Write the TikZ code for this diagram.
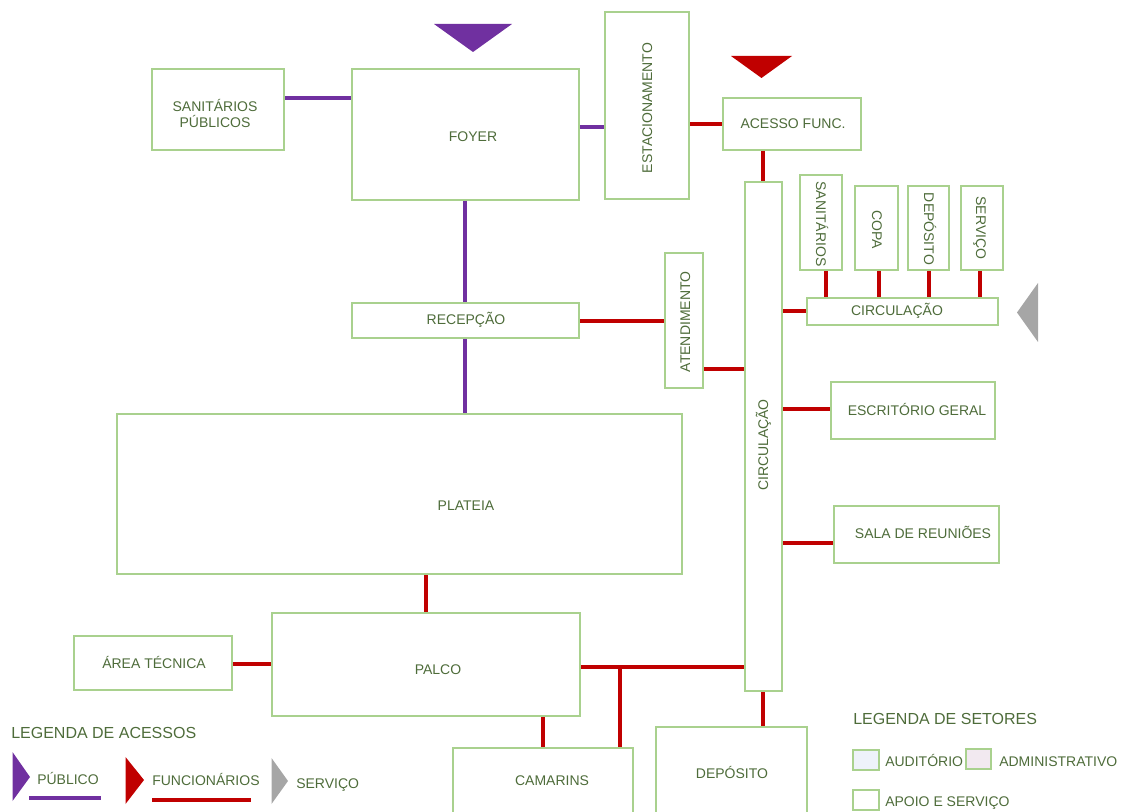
\documentclass[tikz,border=0pt]{standalone}
\usepackage{fontspec}
\setmainfont{Liberation Sans}
\usetikzlibrary{fit}
\definecolor{txtgreen}{RGB}{78,108,58}
\definecolor{boxgreen}{RGB}{169,209,142}
\definecolor{pubpurple}{RGB}{112,48,160}
\definecolor{funcred}{RGB}{192,0,0}
\definecolor{servgray}{RGB}{166,166,166}
\definecolor{audfill}{RGB}{238,242,250}
\definecolor{admfill}{RGB}{242,233,240}
\tikzset{
  room/.style={draw=boxgreen, line width=1.5pt, inner sep=0pt, fill=white},
  lbl/.style={text=txtgreen, font=\fontsize{10.5}{12}\selectfont, inner sep=0pt,
              text height=7.5pt, text depth=0pt, align=center},
  vlbl/.style={lbl, rotate=90},
  dlbl/.style={lbl, rotate=-90},
  ttl/.style={text=txtgreen, font=\fontsize{12}{14}\selectfont, inner sep=0pt,
              text height=8.6pt, text depth=0pt, anchor=west},
  pub/.style={draw=pubpurple, line width=2.3pt},
  func/.style={draw=funcred, line width=2.3pt},
}
\begin{document}
\begin{tikzpicture}[x=0.75pt, y=-0.75pt]
\useasboundingbox (0,0) rectangle (1121,812);
\clip (0,0) rectangle (1121,812);

% ---- rooms ----
\node[room, fit={(152,69)(284,150)}] (sanpub) {};
\node[room, fit={(352,69)(579,200)}] (foyer) {};
\node[room, fit={(605,12)(689,199)}] (estac) {};
\node[room, fit={(723,98)(861,150)}] (acesso) {};
\node[room, fit={(745,182)(782,691)}] (circv) {};
\node[room, fit={(800,175)(842,270)}] (sanit) {};
\node[room, fit={(855,186)(898,270)}] (copa) {};
\node[room, fit={(908,186)(949,270)}] (depa) {};
\node[room, fit={(961,186)(1003,270)}] (serv) {};
\node[room, fit={(807,298)(998,325)}] (circh) {};
\node[room, fit={(665,253)(703,388)}] (atend) {};
\node[room, fit={(352,303)(579,338)}] (recep) {};
\node[room, fit={(117,414)(682,574)}] (plateia) {};
\node[room, fit={(831,382)(995,439)}] (escrit) {};
\node[room, fit={(834,506)(999,563)}] (sala) {};
\node[room, fit={(74,636)(232,690)}] (areatec) {};
\node[room, fit={(272,613)(580,716)}] (palco) {};
\node[room, fit={(453,748)(633,820)}] (camar) {};
\node[room, fit={(656,727)(807,820)}] (depb) {};

% ---- room labels ----
\node[lbl, font=\fontsize{10.5}{12.4}\selectfont] (sanpub-t) at (215,123) {SANITÁRIOS\\PÚBLICOS};
\node[lbl] (foyer-t) at (473,137) {FOYER};
\node[vlbl] (estac-t) at (647,108) {ESTACIONAMENTO};
\node[lbl] (acesso-t) at (793,124) {ACESSO FUNC.};
\node[vlbl] (circv-t) at (763,445) {CIRCULAÇÃO};
\node[dlbl] (sanit-t) at (821,224) {SANITÁRIOS};
\node[dlbl] (copa-t) at (877,230) {COPA};
\node[dlbl] (depa-t) at (929,229) {DEPÓSITO};
\node[dlbl] (serv-t) at (981,228) {SERVIÇO};
\node[lbl] (circh-t) at (897,311) {CIRCULAÇÃO};
\node[vlbl] (atend-t) at (685,322) {ATENDIMENTO};
\node[lbl] (recep-t) at (466,320) {RECEPÇÃO};
\node[lbl] (plateia-t) at (466,506) {PLATEIA};
\node[lbl] (escrit-t) at (917,411) {ESCRITÓRIO GERAL};
\node[lbl] (sala-t) at (923,534) {SALA DE REUNIÕES};
\node[lbl] (areatec-t) at (154,663) {ÁREA TÉCNICA};
\node[lbl] (palco-t) at (438,669) {PALCO};
\node[lbl] (camar-t) at (552,780) {CAMARINS};
\node[lbl] (depb-t) at (732,773) {DEPÓSITO};

% ---- public access ----
\draw[pub] (sanpub.east |- 0,98) -- (foyer.west |- 0,98);
\draw[pub] (foyer.east |- 0,127) -- (estac.west |- 0,127);
\draw[pub] (foyer.south -| 465,0) -- (recep.north -| 465,0);
\draw[pub] (recep.south -| 465,0) -- (plateia.north -| 465,0);

% ---- staff access ----
\draw[func] (estac.east |- 0,124) -- (acesso.west |- 0,124);
\draw[func] (acesso.south -| 763,0) -- (circv.north -| 763,0);
\draw[func] (recep.east |- 0,321) -- (atend.west |- 0,321);
\draw[func] (atend.east |- 0,369) -- (circv.west |- 0,369);
\draw[func] (circv.east |- 0,311) -- (circh.west |- 0,311);
\draw[func] (sanit.south -| 826,0) -- (circh.north -| 826,0);
\draw[func] (copa.south -| 879,0) -- (circh.north -| 879,0);
\draw[func] (depa.south -| 929,0) -- (circh.north -| 929,0);
\draw[func] (serv.south -| 980,0) -- (circh.north -| 980,0);
\draw[func] (circv.east |- 0,409) -- (escrit.west |- 0,409);
\draw[func] (circv.east |- 0,543) -- (sala.west |- 0,543);
\draw[func] (plateia.south -| 426,0) -- (palco.north -| 426,0);
\draw[func] (areatec.east |- 0,664) -- (palco.west |- 0,664);
\coordinate (jct) at (620,667);
\draw[func] (palco.east |- jct) -- (circv.west |- jct);
\draw[func] (jct) -- (camar.north -| jct);
\draw[func] (palco.south -| 543,0) -- (camar.north -| 543,0);
\draw[func] (circv.south -| 763,0) -- (depb.north -| 763,0);

% ---- entrance markers ----
\fill[pubpurple] (434,24) -- (512,24) -- (473,52) -- cycle;
\fill[funcred] (731,56) -- (792,56) -- (761.5,78) -- cycle;
\fill[servgray] (1038,283) -- (1038,342) -- (1017,312.5) -- cycle;

% ---- access legend ----
\node[ttl] (legac) at (11,733) {LEGENDA DE ACESSOS};
\fill[pubpurple] (12.5,752) -- (12.5,801) -- (30,777) -- cycle;
\node[lbl, anchor=west] (legpub) at (37,779) {PÚBLICO};
\coordinate (lpa) at (29,798);
\coordinate (lpb) at (101,798);
\draw[pub] (lpa) -- (lpb);
\fill[funcred] (125.5,757) -- (125.5,804) -- (144,780) -- cycle;
\node[lbl, anchor=west] (legfunc) at (152,780) {FUNCIONÁRIOS};
\coordinate (lfa) at (152,800);
\coordinate (lfb) at (251,800);
\draw[func] (lfa) -- (lfb);
\fill[servgray] (271.5,758) -- (271.5,804) -- (288,781) -- cycle;
\node[lbl, anchor=west] (legserv) at (296,783) {SERVIÇO};

% ---- sector legend ----
\node[ttl] (legset) at (853,719) {LEGENDA DE SETORES};
\node[room, fill=audfill, fit={(853,750)(879,770)}] (swaud) {};
\node[lbl, anchor=west] (legaud) at (885,761) {AUDITÓRIO};
\node[room, fill=admfill, fit={(966,749)(991,769)}] (swadm) {};
\node[lbl, anchor=west] (legadm) at (999,761) {ADMINISTRATIVO};
\node[room, fit={(853,790)(879,810)}] (swapo) {};
\node[lbl, anchor=west] (legapo) at (885,801) {APOIO E SERVIÇO};
\end{tikzpicture}
\end{document}
